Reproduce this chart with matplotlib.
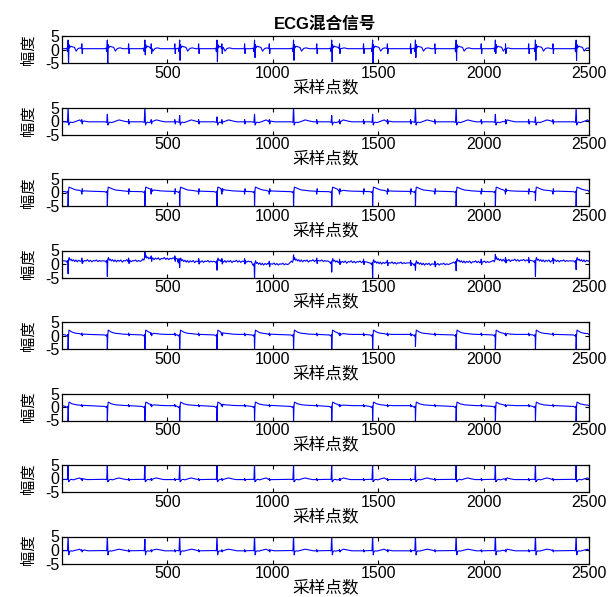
import numpy as np
import matplotlib.pyplot as plt

plt.rcParams['font.family'] = ['Liberation Sans', 'Noto Sans CJK SC', 'DejaVu Sans']
plt.rcParams['axes.unicode_minus'] = False

# maternal R peaks (sample index)
maternal_r = [30, 216, 394, 559, 736, 914, 1099, 1280, 1474, 1677, 1870, 2056, 2246, 2439]
# fetal beats (small spikes between maternal beats)
fetal_r = [96, 205, 318, 425, 537, 650, 760, 868, 985, 1096, 1210, 1318,
           1432, 1545, 1655, 1770, 1880, 1990, 2105, 2215, 2330, 2445]
fetal_off = [-3, -1, 1, 3]
fetal_val = [0.0, 1.0, -1.0, 0.0]

# beat templates per channel: offsets, values, index of the main spike
tpl_off = [
    [-14, -6, -3, 0, 2, 4, 7, 12, 20, 30, 38, 48, 60, 75],
    [-12, -3, 0, 3, 6, 12, 20, 35, 55, 75, 95],
    [-12, -4, -1, 0, 2, 4, 10, 18, 28, 40, 55, 75, 100],
    [-10, -5, -2, 0, 2, 5, 9, 14, 19, 25, 31, 37, 43, 50, 57, 64, 71, 78, 85, 92,
     99, 106, 113, 120, 127, 134, 141, 148, 155, 162],
    [-12, -4, -1, 0, 2, 4, 10, 18, 28, 40, 55, 75, 100],
    [-12, -4, -1, 0, 2, 4, 10, 18, 28, 40, 55, 75, 100],
    [-12, -3, 0, 2, 5, 9, 15, 25, 40, 55, 70, 90],
    [-12, -3, 0, 3, 6, 12, 20, 35, 55, 75, 95],
]
tpl_val = [
    [0.3, 0.5, -0.8, 3.5, -5.0, 1.8, 0.6, 1.2, 1.0, 0.8, -0.6, 0.4, 0.6, 0.3],
    [-0.3, -0.5, 5.0, -1.5, -0.8, -0.4, -0.6, -0.2, 0.4, 0.0, -0.3],
    [0.3, 0.0, 0.5, -5.5, 0.5, 2.0, 1.8, 1.5, 1.2, 0.9, 0.8, 0.6, 0.5],
    [0.2, -0.3, 0.4, -5.0, 0.8, 1.5, 0.5, 0.9, 0.2, 0.7, 0.0, 0.6, -0.1, 0.5, 0.1,
     0.6, -0.2, 0.4, 0.2, 0.7, 0.0, 0.5, -0.1, 0.4, 0.2, 0.6, 0.0, 0.4, 0.1, 0.3],
    [0.2, -0.2, 0.4, -5.5, 0.0, 2.0, 1.7, 1.3, 1.0, 0.8, 0.7, 0.5, 0.4],
    [0.2, -0.2, 0.3, -5.5, 0.0, 1.8, 1.6, 1.2, 1.0, 0.8, 0.7, 0.6, 0.5],
    [-0.3, -0.4, 5.5, -1.2, -1.0, -0.5, -0.3, -0.5, -0.1, 0.2, -0.1, -0.4],
    [-0.2, -0.3, 5.5, -1.8, -0.6, -0.3, -0.4, -0.1, 0.3, 0.0, -0.3],
]
spike_idx = [4, 2, 3, 3, 3, 3, 2, 2]
rest_level = [0.3, -0.3, 0.4, 0.3, 0.4, 0.5, -0.4, -0.3]
fetal_amp = [1.8, 0.8, -1.0, 1.0, 0.5, 0.4, 0.4, 0.4]

# spike height for every maternal beat, per channel
spike_amp = [
    [-6.5, -5.5, -2.0, -4.0, -4.5, -3.0, -4.0, -4.5, -5.5, -3.0, -4.0, -1.5, -4.0, -4.0],
    [5.5, 2.5, 5.5, 2.0, 1.5, 2.5, 5.5, 2.0, 2.5, 5.5, 5.5, 2.5, 1.5, 5.5],
    [-5.5, -5.5, -5.5, -5.5, -5.5, -5.5, -5.5, -5.5, -5.5, -5.5, -5.5, -5.5, -3.0, -5.5],
    [-4.5, -5.5, 3.0, -2.0, -3.0, -5.5, 2.5, -3.5, -5.5, -2.0, -3.0, 2.5, -5.5, -3.0],
    [-5.5, -5.5, -5.5, -5.5, -5.5, -5.5, -5.5, -5.5, -5.5, -4.0, -5.5, -5.5, -5.5, -5.5],
    [-5.5, -5.5, -5.5, -5.5, -5.5, -5.5, -5.5, -5.5, -5.5, -5.5, -5.5, -5.5, -5.5, -5.5],
    [5.5, 5.5, 5.5, 5.5, 5.5, 5.5, 5.5, 5.5, 5.5, 4.5, 5.5, 5.5, 5.5, 5.5],
    [5.5, 5.5, 4.0, 5.5, 5.5, 5.5, 5.5, 5.5, 5.5, 5.5, 5.5, 5.5, 5.5, 5.5],
]
# baseline wander per beat (only channel 4 really moves)
base_shift = [
    [0] * 14,
    [0] * 14,
    [0] * 14,
    [0.9, 0.9, 1.7, 0.7, 0.7, -0.3, 0.9, 0.5, 0.1, -0.3, 0.5, 1.1, 0.9, 0.9],
    [0] * 14,
    [0] * 14,
    [0] * 14,
    [0] * 14,
]

xticks = [500, 1000, 1500, 2000, 2500]
yticks = [-5, 0, 5]


def build_trace(ch):
    pts = [(1, rest_level[ch] + base_shift[ch][0])]
    for k, r in enumerate(maternal_r):
        vals = list(tpl_val[ch])
        vals[spike_idx[ch]] = spike_amp[ch][k]
        for off, v in zip(tpl_off[ch], vals):
            if 1 <= r + off <= 2500:
                pts.append((r + off, v + base_shift[ch][k]))
    for f in fetal_r:
        d = [abs(f - r) for r in maternal_r]
        if min(d) < 18:
            continue
        k = max([i for i, r in enumerate(maternal_r) if r < f] + [0])
        lvl = rest_level[ch] + base_shift[ch][k]
        for off, v in zip(fetal_off, fetal_val):
            pts.append((f + off, lvl + v * fetal_amp[ch]))
    last = len(maternal_r) - 1
    pts.append((2500, rest_level[ch] + base_shift[ch][last]))
    pts.sort(key=lambda p: p[0])
    return [p[0] for p in pts], [p[1] for p in pts]


fig = plt.figure(figsize=(6.14, 5.97), dpi=100)
W, H = 614.0, 597.0
left, right = 62, 589
top0, step, hgt = 36, 71.5, 27

for ch in range(8):
    top = top0 + ch * step
    ax = fig.add_axes([left / W, 1 - (top + hgt) / H, (right - left) / W, hgt / H])
    xs, ys = build_trace(ch)
    ax.plot(xs, ys, color=(0, 0, 1), lw=0.8)
    ax.set_xlim(1, 2500)
    ax.set_ylim(-5, 5)
    ax.set_xticks(xticks)
    ax.set_yticks(yticks)
    ax.tick_params(direction='in', top=True, right=True, length=3, width=0.8,
                   labelsize=11.5, pad=2)
    ax.tick_params(axis='y', pad=2)
    for s in ax.spines.values():
        s.set_linewidth(0.9)
    ax.set_xlabel('采样点数', fontsize=12, labelpad=-1)
    ax.set_ylabel('幅度', fontsize=11, labelpad=7)
    if ch == 0:
        ax.set_title('ECG混合信号', fontsize=12, fontweight='bold', pad=5)

fig.savefig('out.png', dpi=100)
